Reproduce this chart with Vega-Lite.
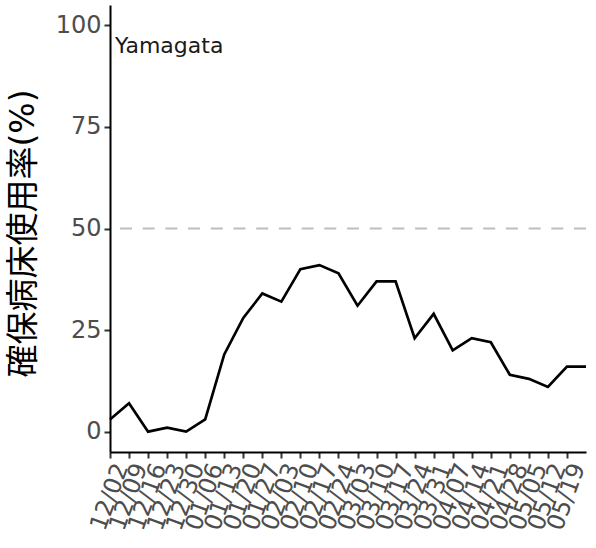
{
  "$schema": "https://vega.github.io/schema/vega-lite/v6.json",
  "autosize": {"type": "none"},
  "padding": {"left": 110, "top": 5, "right": 10, "bottom": 96},
  "width": 476,
  "height": 447,
  "background": "white",
  "config": {"view": {"stroke": null}, "font": "DejaVu Sans"},
  "datasets": {
    "series": [
      {"date": "12/02", "rate": 3},
      {"date": "12/09", "rate": 7},
      {"date": "12/16", "rate": 0},
      {"date": "12/23", "rate": 1},
      {"date": "12/30", "rate": 0},
      {"date": "01/06", "rate": 3},
      {"date": "01/13", "rate": 19},
      {"date": "01/20", "rate": 28},
      {"date": "01/27", "rate": 34},
      {"date": "02/03", "rate": 32},
      {"date": "02/10", "rate": 40},
      {"date": "02/17", "rate": 41},
      {"date": "02/24", "rate": 39},
      {"date": "03/03", "rate": 31},
      {"date": "03/10", "rate": 37},
      {"date": "03/17", "rate": 37},
      {"date": "03/24", "rate": 23},
      {"date": "03/31", "rate": 29},
      {"date": "04/07", "rate": 20},
      {"date": "04/14", "rate": 23},
      {"date": "04/21", "rate": 22},
      {"date": "04/28", "rate": 14},
      {"date": "05/05", "rate": 13},
      {"date": "05/12", "rate": 11},
      {"date": "05/19", "rate": 16},
      {"date": "05/26", "rate": 16}
    ],
    "ref": [{"rate": 50}],
    "label": [{"date": "12/02", "rate": 95, "text": "Yamagata"}]
  },
  "encoding": {
    "x": {
      "field": "date",
      "type": "ordinal",
      "sort": null,
      "scale": {"type": "point", "padding": 0, "domain": ["12/02","12/09","12/16","12/23","12/30","01/06","01/13","01/20","01/27","02/03","02/10","02/17","02/24","03/03","03/10","03/17","03/24","03/31","04/07","04/14","04/21","04/28","05/05","05/12","05/19","05/26"]},
      "axis": {
        "title": null,
        "values": ["12/02","12/09","12/16","12/23","12/30","01/06","01/13","01/20","01/27","02/03","02/10","02/17","02/24","03/03","03/10","03/17","03/24","03/31","04/07","04/14","04/21","04/28","05/05","05/12","05/19"],
        "labelAngle": -70,
        "labelAlign": "right",
        "labelBaseline": "top",
        "labelFontSize": 24,
        "labelColor": "#4d4d4d",
        "labelPadding": 2,
        "labelOverlap": false,
        "labelFlush": false,
        "labelBound": false,
        "domainColor": "#000000",
        "domainWidth": 2,
        "tickColor": "#333333",
        "tickWidth": 2,
        "tickSize": 6,
        "grid": false
      }
    },
    "y": {
      "field": "rate",
      "type": "quantitative",
      "scale": {"domain": [-5, 105], "nice": false, "zero": false},
      "axis": {
        "title": "確保病床使用率(%)",
        "titleFont": "DejaVu Sans, Noto Sans CJK JP",
        "titleFontSize": 33,
        "titleFontWeight": "normal",
        "titleColor": "#000000",
        "titleAngle": -90,
        "titleX": -87,
        "titleY": 228,
        "titleAlign": "center",
        "titleBaseline": "middle",
        "values": [0, 25, 50, 75, 100],
        "labelFontSize": 24,
        "labelColor": "#4d4d4d",
        "labelPadding": 3,
        "domainColor": "#000000",
        "domainWidth": 2,
        "tickColor": "#333333",
        "tickWidth": 2,
        "tickSize": 6,
        "grid": false
      }
    }
  },
  "layer": [
    {
      "data": {"name": "ref"},
      "mark": {"type": "rule", "color": "#bebebe", "strokeWidth": 2, "strokeDash": [12, 10.7]},
      "encoding": {"x": null, "y": {"field": "rate", "type": "quantitative"}}
    },
    {
      "data": {"name": "series"},
      "mark": {"type": "line", "color": "#000000", "strokeWidth": 2.7}
    },
    {
      "data": {"name": "label"},
      "mark": {"type": "text", "align": "left", "baseline": "middle", "dx": 5, "fontSize": 22, "color": "#1a1a1a"},
      "encoding": {"text": {"field": "text"}}
    }
  ]
}
